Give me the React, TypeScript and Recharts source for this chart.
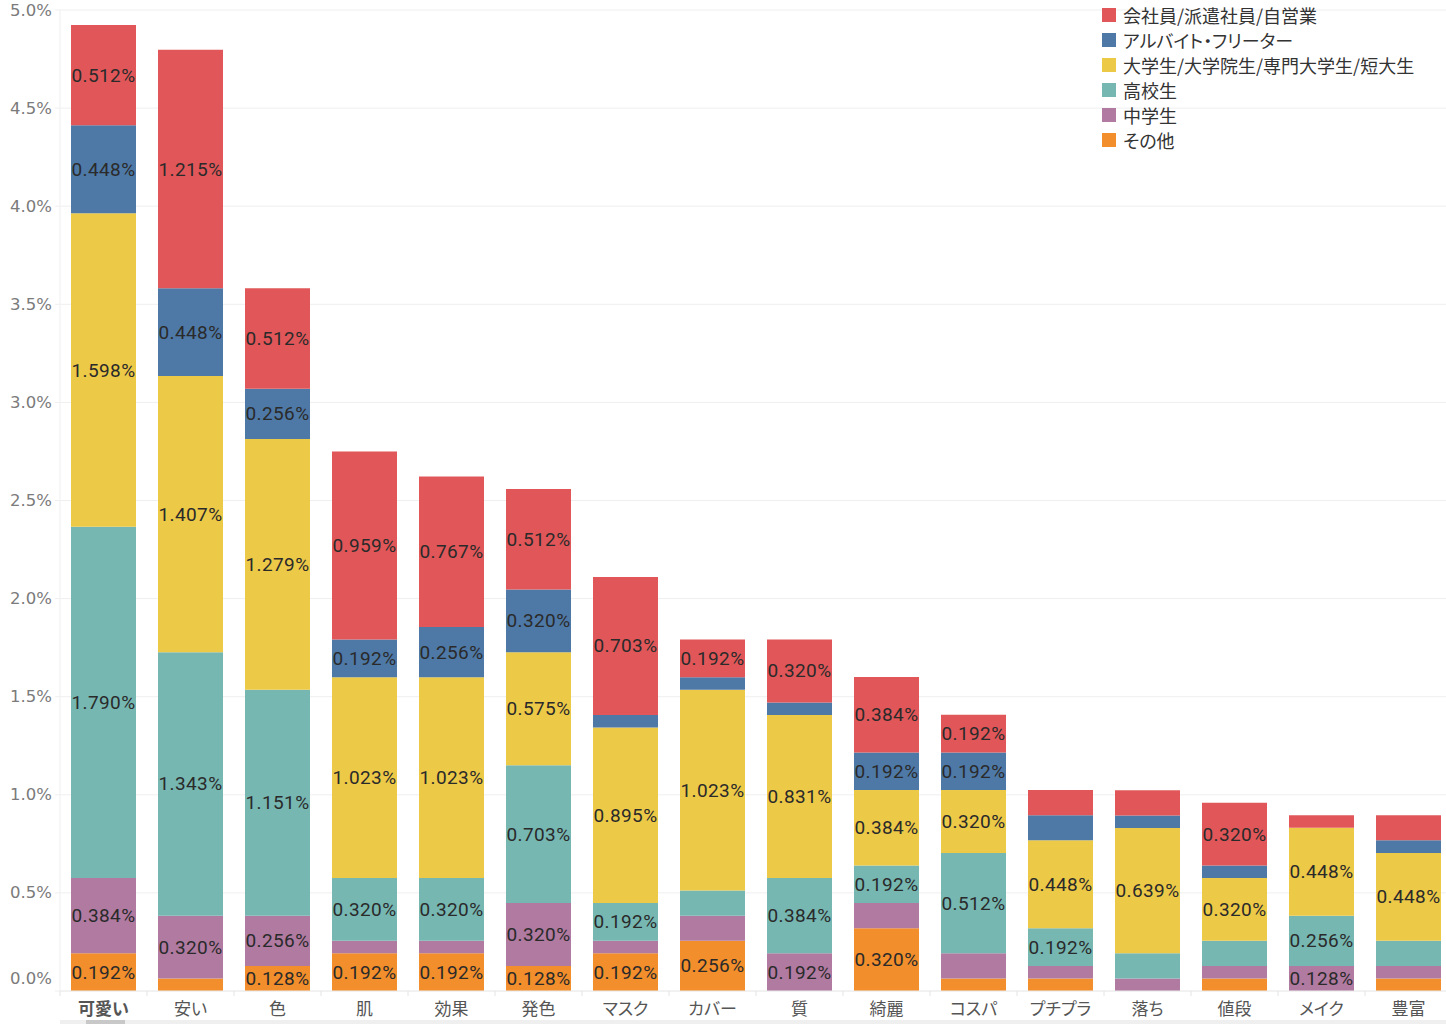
import { BarChart, Bar, XAxis, YAxis, CartesianGrid, LabelList } from 'recharts';

const categories = [
  '可愛い', '安い', '色', '肌', '効果', '発色', 'マスク', 'カバー',
  '質', '綺麗', 'コスパ', 'プチプラ', '落ち', '値段', 'メイク', '豊富',
];

// stacked bottom → top
const other = [0.192, 0.064, 0.128, 0.192, 0.192, 0.128, 0.192, 0.256, 0, 0.32, 0.064, 0.064, 0, 0.064, 0, 0.064];
const juniorHigh = [0.384, 0.32, 0.256, 0.064, 0.064, 0.32, 0.064, 0.128, 0.192, 0.128, 0.128, 0.064, 0.064, 0.064, 0.128, 0.064];
const highSchool = [1.79, 1.343, 1.151, 0.32, 0.32, 0.703, 0.192, 0.128, 0.384, 0.192, 0.512, 0.192, 0.128, 0.128, 0.256, 0.128];
const university = [1.598, 1.407, 1.279, 1.023, 1.023, 0.575, 0.895, 1.023, 0.831, 0.384, 0.32, 0.448, 0.639, 0.32, 0.448, 0.448];
const partTime = [0.448, 0.448, 0.256, 0.192, 0.256, 0.32, 0.064, 0.064, 0.064, 0.192, 0.192, 0.128, 0.064, 0.064, 0, 0.064];
const employee = [0.512, 1.215, 0.512, 0.959, 0.767, 0.512, 0.703, 0.192, 0.32, 0.384, 0.192, 0.128, 0.128, 0.32, 0.064, 0.128];

const yTicks = [0, 0.5, 1, 1.5, 2, 2.5, 3, 3.5, 4, 4.5, 5];

const SERIES = [
  { key: 'other', name: 'その他', color: '#F28E2B', values: other },
  { key: 'juniorHigh', name: '中学生', color: '#B07AA1', values: juniorHigh },
  { key: 'highSchool', name: '高校生', color: '#76B7B2', values: highSchool },
  { key: 'university', name: '大学生/大学院生/専門大学生/短大生', color: '#EDC948', values: university },
  { key: 'partTime', name: 'アルバイト・フリーター', color: '#4E79A7', values: partTime },
  { key: 'employee', name: '会社員/派遣社員/自営業', color: '#E15759', values: employee },
];

const data = categories.map((c, i) => {
  const row: Record<string, string | number> = { name: c };
  SERIES.forEach((s) => (row[s.key] = s.values[i]));
  return row;
});

const BAND = 87;
const JP = '"Noto Sans CJK JP", "Noto Sans", sans-serif';

function isBottom(seriesIdx: number, i: number) {
  return SERIES.slice(0, seriesIdx).every((s) => s.values[i] === 0);
}

function makeLabel(seriesIdx: number) {
  return (props: any) => {
    const { x, y, width, height, value, index } = props;
    const v = Number(value);
    if (!v) return null;
    const show = v >= 0.19 || (v >= 0.12 && isBottom(seriesIdx, index));
    if (!show) return null;
    return (
      <text
        x={Number(x) + Number(width) / 2}
        y={Number(y) + Number(height) / 2}
        textAnchor="middle"
        dominantBaseline="central"
        fill="#2a2a2a"
        fontSize={19}
        letterSpacing={0.4}
        fontFamily="Roboto, sans-serif"
      >
        {v.toFixed(3)}%
      </text>
    );
  };
}

function YTick({ x, y, payload }: any) {
  const dy = payload.value === 0 ? -13 : 0;
  return (
    <text
      x={x}
      y={y + dy}
      textAnchor="end"
      dominantBaseline="central"
      fill="#7b7b7b"
      fontSize={16.5}
      fontFamily='"DejaVu Sans", sans-serif'
    >
      {payload.value.toFixed(1)}%
    </text>
  );
}

function XTick({ x, y, payload, index }: any) {
  return (
    <g>
      <line x1={x - BAND / 2} x2={x - BAND / 2} y1={y - 8} y2={y - 3} stroke="#e4e4e4" />
      <text
        x={x}
        y={y + 8}
        textAnchor="middle"
        dominantBaseline="central"
        fill="#555"
        fontSize={17}
        fontWeight={index === 0 ? 700 : 400}
        fontFamily={JP}
        style={{ fontFeatureSettings: '"palt"' }}
      >
        {payload.value}
      </text>
    </g>
  );
}

export default function App() {
  return (
    <div
      style={{
        position: 'absolute',
        left: 0,
        top: 0,
        width: 1446,
        height: 1024,
        overflow: 'hidden',
        background: '#fff',
      }}
    >
      <BarChart
        width={1452}
        height={1024}
        data={data}
        margin={{ top: 10, right: 0, bottom: 0, left: 0 }}
      >
        <CartesianGrid vertical={false} stroke="#efefef" />
        <XAxis
          dataKey="name"
          height={33}
          interval={0}
          axisLine={{ stroke: '#ececec' }}
          tickLine={false}
          tick={<XTick />}
        />
        <YAxis
          width={60}
          domain={[0, 5]}
          ticks={yTicks}
          interval={0}
          axisLine={{ stroke: '#efefef' }}
          tickLine={{ stroke: '#efefef' }}
          tickSize={5}
          tickMargin={3}
          tick={<YTick />}
        />
        {SERIES.map((s, si) => (
          <Bar
            key={s.key}
            dataKey={s.key}
            name={s.name}
            stackId="a"
            fill={s.color}
            barSize={65}
            isAnimationActive={false}
          >
            <LabelList dataKey={s.key} content={makeLabel(si)} />
          </Bar>
        ))}
      </BarChart>

      <div
        style={{
          position: 'absolute',
          left: 1102,
          top: 2,
          fontFamily: JP,
          fontSize: 18,
          color: '#333',
          fontFeatureSettings: '"palt"',
        }}
      >
        {[...SERIES].reverse().map((s) => (
          <div key={s.key} style={{ display: 'flex', alignItems: 'center', height: 25 }}>
            <span style={{ width: 14, height: 14, background: s.color, marginRight: 7, flexShrink: 0 }} />
            <span style={{ whiteSpace: 'nowrap' }}>{s.name}</span>
          </div>
        ))}
      </div>

      <div style={{ position: 'absolute', left: 60, top: 1020, width: 1386, height: 4, background: '#efefef' }} />
      <div style={{ position: 'absolute', left: 86, top: 1020, width: 39, height: 4, background: '#c8c8c8' }} />
    </div>
  );
}
